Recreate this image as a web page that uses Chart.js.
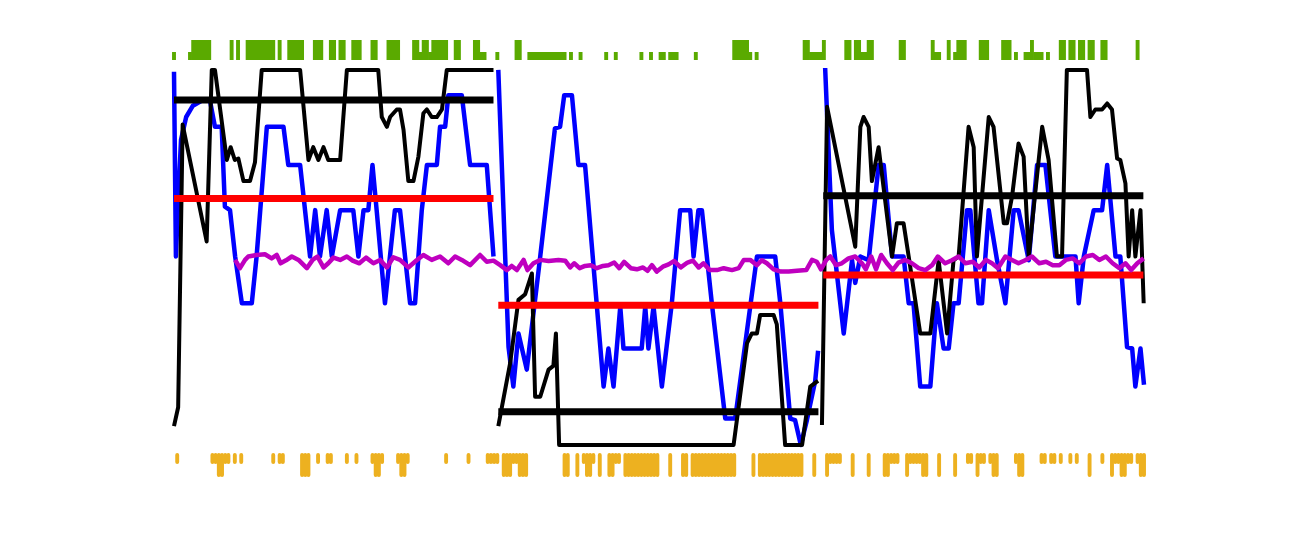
<!DOCTYPE html>
<html><head><meta charset="utf-8">
<script src="https://cdn.jsdelivr.net/npm/chart.js@4.4.0/dist/chart.umd.min.js"></script>
<style>html,body{margin:0;padding:0;background:#fff;overflow:hidden}</style>
</head><body>
<canvas id="c" width="1308" height="534"></canvas>
<script>
// ---- data (trial index, value) ----
const blue1 = [[0,0.99],[0.6,0.50],[1.3,0.65],[2.2,0.81],[3.8,0.87],[5.9,0.90],[9,0.915],[11.2,0.915],[12.8,0.844],[14.9,0.844],[15.9,0.632],[17.5,0.623],[19.1,0.50],[21.2,0.376],[24.3,0.376],[25.8,0.50],[29,0.844],[34.2,0.844],[35.7,0.743],[39.4,0.743],[42.5,0.50],[44.1,0.623],[45.6,0.50],[47.7,0.623],[49.3,0.50],[51.9,0.623],[56,0.623],[57.6,0.50],[59.2,0.623],[60.7,0.623],[62,0.743],[63.3,0.623],[65.9,0.376],[69,0.623],[70.6,0.623],[73.75,0.376],[75.3,0.376],[77.4,0.623],[79,0.743],[82.1,0.743],[83.1,0.844],[84.7,0.844],[85.7,0.928],[89.9,0.928],[92.5,0.743],[97.7,0.743],[99.8,0.50]];
const blue2 = [[101.3,0.995],[104.5,0.26],[106,0.155],[107.6,0.296],[110.2,0.2],[114.4,0.50],[119,0.84],[120.6,0.844],[121.9,0.928],[124.3,0.928],[126.3,0.743],[128.4,0.743],[134.2,0.155],[135.7,0.256],[137.3,0.155],[139.4,0.367],[140.4,0.256],[146.1,0.256],[147.2,0.367],[148.2,0.256],[149.8,0.367],[152.4,0.155],[155.5,0.376],[158.1,0.623],[161.25,0.623],[162.3,0.50],[163.8,0.623],[164.9,0.623],[168,0.376],[172.2,0.07],[175.3,0.07],[182.1,0.50],[187.8,0.50],[189.4,0.376],[192.5,0.07],[194,0.066],[195.8,0.0],[197.7,0.066],[200.3,0.17],[201.2,0.25]];
const blue3 = [[203.4,1.0],[205.5,0.57],[209.2,0.296],[211.8,0.49],[212.8,0.43],[214.4,0.50],[217,0.49],[220.1,0.743],[221.7,0.743],[224.3,0.50],[227.9,0.50],[229.5,0.376],[231,0.376],[233.1,0.155],[236.25,0.155],[238.3,0.376],[240.4,0.256],[242,0.256],[243.5,0.376],[245.1,0.376],[247.7,0.623],[248.75,0.623],[251.3,0.376],[252.4,0.376],[254.5,0.623],[257.1,0.49],[259.7,0.376],[262.3,0.623],[263.8,0.623],[267,0.49],[269.6,0.743],[272.2,0.743],[275.3,0.50],[281.6,0.50],[282.6,0.376],[284.2,0.50],[287.3,0.623],[289.9,0.623],[291.5,0.743],[294.1,0.50],[295.6,0.50],[297.7,0.26],[299.3,0.256],[300.3,0.155],[301.9,0.256],[303,0.16]];

const black1 = [[0,0.05],[1.3,0.10],[2.7,0.85],[10.2,0.54],[11.8,0.995],[12.8,0.995],[16.5,0.756],[17.7,0.79],[19,0.756],[20.1,0.76],[21.7,0.70],[23.75,0.70],[25.3,0.75],[27.4,0.995],[39.4,0.995],[42,0.756],[43.5,0.79],[45.1,0.756],[46.7,0.79],[48.2,0.756],[51.9,0.756],[54,0.995],[63.8,0.995],[64.9,0.87],[66.5,0.844],[67.5,0.87],[69.6,0.89],[70.6,0.89],[71.7,0.836],[73.2,0.70],[74.8,0.70],[76.35,0.765],[77.9,0.88],[79,0.89],[80.5,0.87],[82.1,0.87],[83.7,0.89],[85.2,0.995],[99.8,0.995]];
const black2 = [[101.3,0.05],[105,0.217],[107.6,0.385],[109.7,0.40],[111.8,0.455],[112.8,0.128],[114.4,0.128],[117,0.20],[118.5,0.21],[119.3,0.296],[120.3,0.0],[174.8,0.0],[179,0.27],[180.5,0.296],[182.1,0.296],[183.1,0.345],[187.3,0.345],[188.3,0.32],[190.9,0.0],[196.2,0.0],[198.75,0.155],[200.3,0.165],[201.2,0.17]];
const black3 = [[202.4,0.053],[204,0.897],[212.8,0.526],[214.4,0.844],[215.4,0.87],[217,0.844],[218,0.70],[220.1,0.79],[224.3,0.50],[225.8,0.588],[227.9,0.588],[229.5,0.50],[233.1,0.296],[236.25,0.296],[238.85,0.49],[241.5,0.296],[243.5,0.49],[245.1,0.50],[248.2,0.844],[249.8,0.79],[250.8,0.50],[254.5,0.87],[256,0.844],[259.2,0.588],[260.2,0.588],[261.8,0.66],[263.8,0.80],[265.4,0.765],[267,0.50],[269,0.667],[271.2,0.844],[273.2,0.756],[275.8,0.50],[277.4,0.50],[278.9,0.995],[285.2,0.995],[286.25,0.87],[287.8,0.89],[289.9,0.89],[291.5,0.906],[293,0.89],[294.6,0.76],[295.6,0.756],[297.2,0.694],[298.2,0.50],[299.3,0.623],[300.3,0.50],[301.9,0.623],[302.9,0.376]];

const magenta = [[19.1,0.491],[20.6,0.469],[22.2,0.491],[23.2,0.50],[25.8,0.504],[28.4,0.506],[30.5,0.495],[32.1,0.504],[33.3,0.482],[35,0.49],[36.8,0.50],[38.9,0.491],[41.5,0.469],[43.3,0.491],[44.8,0.50],[46.7,0.471],[48.2,0.482],[49.8,0.497],[51.9,0.491],[54,0.50],[55.8,0.489],[57.9,0.482],[60,0.497],[62.3,0.482],[64.4,0.491],[66.5,0.471],[68.5,0.498],[70.6,0.491],[73.2,0.471],[75.8,0.49],[77.9,0.504],[80.5,0.491],[83.1,0.50],[85.7,0.482],[87.8,0.50],[89.9,0.491],[92.5,0.477],[95.6,0.504],[97.7,0.486],[99.8,0.489],[101.9,0.477],[104,0.464],[105.5,0.475],[107.1,0.464],[109.2,0.491],[110.4,0.464],[112.3,0.482],[114.4,0.491],[117,0.488],[120.1,0.491],[122.2,0.489],[123.75,0.471],[125,0.482],[126.7,0.469],[128.4,0.475],[130.2,0.477],[132.1,0.469],[134,0.475],[135.7,0.477],[137.5,0.484],[139.1,0.469],[140.6,0.486],[142.7,0.469],[144.6,0.466],[146.5,0.471],[147.9,0.462],[149.3,0.477],[150.8,0.46],[152.7,0.473],[154.5,0.479],[156.25,0.488],[158.3,0.471],[160.4,0.484],[162.1,0.489],[163.9,0.471],[165.4,0.482],[167.3,0.464],[169.6,0.464],[171.7,0.469],[174.3,0.464],[176.4,0.469],[178,0.491],[180,0.491],[182.1,0.477],[183.6,0.49],[185.2,0.482],[187.3,0.466],[189.6,0.46],[192,0.46],[194.6,0.462],[197.5,0.464],[199.3,0.491],[200.8,0.486],[202.1,0.466],[203.75,0.491],[205,0.50],[206.8,0.477],[208.6,0.482],[210.7,0.495],[212.8,0.50],[214.9,0.482],[216.1,0.466],[217.8,0.50],[219.3,0.466],[220.9,0.504],[222.7,0.482],[224.5,0.464],[226.3,0.484],[228.4,0.491],[230.5,0.482],[232.6,0.469],[234.7,0.464],[236.8,0.477],[238.6,0.50],[240.9,0.482],[243,0.49],[245.1,0.50],[247.2,0.482],[249.5,0.486],[251.55,0.471],[253.6,0.491],[255.5,0.482],[257.4,0.469],[259.7,0.50],[261.75,0.491],[263.8,0.482],[265.9,0.49],[268,0.50],[270.3,0.482],[272.4,0.486],[274.5,0.477],[276.55,0.477],[278.6,0.491],[280.7,0.495],[282.8,0.482],[284.9,0.50],[287,0.504],[289.05,0.491],[291.1,0.50],[293.2,0.482],[295.3,0.469],[297.2,0.482],[299,0.464],[300.9,0.482],[302.9,0.495]];

// block means: [start trial, end trial, value]
const redLevels = [[0,99.8,0.654],[101.3,201.3,0.371],[202.8,302.8,0.451]];
const blackLevels = [[0,99.8,0.915],[101.3,201.3,0.088],[202.8,302.8,0.661]];

// event trials
const greenFull = [6,7,8,9,10,11,18,20,23,24,25,26,27,28,29,30,31,33,36,37,38,39,40,44,45,46,49,50,52,53,56,57,58,62,63,67,68,69,70,75,76,78,79,81,82,83,84,85,88,89,94,95,107,108,175,176,177,178,179,197,198,203,210,211,213,214,217,218,227,228,237,242,245,246,247,252,253,254,259,260,261,268,277,278,280,281,283,284,286,287,290,291,301];
const greenShort = [0,5,77,80,96,97,101,111,112,113,114,115,116,117,118,119,120,121,122,124,127,135,138,146,149,152,153,155,156,157,163,180,182,199,200,201,202,215,216,238,239,244,263,266,267,269,270,271,273];
const orangeFull = [14,15,40,41,42,63,64,71,72,103,104,105,108,109,110,122,123,126,129,130,133,136,137,141,142,143,144,145,146,147,148,149,150,151,155,159,160,162,163,164,165,166,167,168,169,170,171,172,173,174,175,181,183,184,185,186,187,188,189,190,191,192,193,194,195,196,200,204,212,217,222,223,229,234,235,239,244,251,256,257,264,265,286,293,296,297,302,303];
const orangeShort = [1,12,13,16,17,19,21,31,33,34,45,48,49,54,57,62,65,70,73,85,92,98,99,100,101,106,107,128,131,138,139,205,206,207,208,224,225,226,230,231,232,233,248,249,252,253,255,263,271,272,274,275,277,280,282,290,294,295,298,299,301];

// ---- styling constants ----
const Y_MIN = -0.0796, Y_MAX = 1.0743;
const TOP_BASE = 1.021, TOP_FULL = 1.0743, TOP_SHORT = 1.0424;
const BOT_BASE = -0.0265, BOT_FULL = -0.0796, BOT_SHORT = -0.045;
const GREEN = '#5aaa00', ORANGE = '#edb120';

function joinBlocks(blocks){
  const out = [];
  blocks.forEach((b,i)=>{
    if(i){ out.push({x:(out[out.length-1].x + b[0][0])/2, y:null}); }
    b.forEach(([x,y])=>out.push({x:x,y:y}));
  });
  return out;
}
function levels(list){
  const out = [];
  list.forEach(([a,b,v],i)=>{
    if(i) out.push({x:(out[out.length-1].x + a)/2, y:null});
    out.push({x:a,y:v},{x:b,y:v});
  });
  return out;
}
function ticks(list, lo, hi){
  const out = [];
  list.forEach(k=>{ out.push({x:k,y:lo},{x:k,y:hi},{x:k,y:null}); });
  return out;
}
const common = {pointRadius:0, tension:0, fill:false, clip:false, spanGaps:false, borderJoinStyle:'round', borderCapStyle:'butt'};
const tickW = 3.9;

new Chart(document.getElementById('c'), {
  type:'line',
  data:{datasets:[
    Object.assign({data:magenta.map(([x,y])=>({x,y})), borderColor:'#bf00bf', borderWidth:4.5, order:1}, common),
    Object.assign({data:levels(blackLevels), borderColor:'#000000', borderWidth:7, order:2}, common),
    Object.assign({data:levels(redLevels), borderColor:'#ff0000', borderWidth:7, order:3}, common),
    Object.assign({data:joinBlocks([black1,black2,black3]), borderColor:'#000000', borderWidth:4, order:4}, common),
    Object.assign({data:joinBlocks([blue1,blue2,blue3]), borderColor:'#0000ff', borderWidth:4.5, order:5}, common),
    Object.assign({data:ticks(greenFull, TOP_BASE, TOP_FULL), borderColor:GREEN, borderWidth:tickW, order:6}, common),
    Object.assign({data:ticks(greenShort, TOP_BASE, TOP_SHORT), borderColor:GREEN, borderWidth:tickW, order:6}, common),
    Object.assign({data:ticks(orangeFull, BOT_BASE, BOT_FULL), borderColor:ORANGE, borderWidth:tickW, order:6}, common),
    Object.assign({data:ticks(orangeShort, BOT_BASE, BOT_SHORT), borderColor:ORANGE, borderWidth:tickW, order:6}, common)
  ]},
  options:{
    responsive:false, animation:false, devicePixelRatio:1, events:[],
    layout:{padding:{left:174,right:164,top:40,bottom:59}},
    scales:{
      x:{type:'linear', min:0, max:303, display:false},
      y:{type:'linear', min:Y_MIN, max:Y_MAX, display:false}
    },
    plugins:{legend:{display:false}, tooltip:{enabled:false}}
  }
});
</script>
</body></html>
